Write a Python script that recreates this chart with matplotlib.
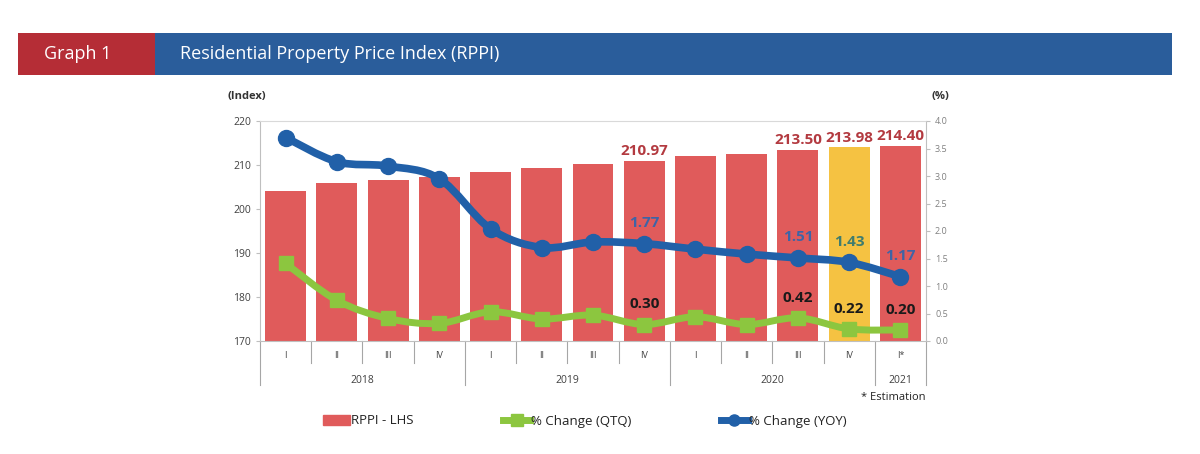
import numpy as np
import matplotlib
matplotlib.use("Agg")
import matplotlib.pyplot as plt
from matplotlib.path import Path
from matplotlib.patches import PathPatch, Rectangle, Patch
from matplotlib.lines import Line2D
import matplotlib.transforms as mtransforms

plt.rcParams['font.family'] = ['Open Sans', 'DejaVu Sans']

quarters = ["I", "II", "III", "IV", "I", "II", "III", "IV", "I", "II", "III", "IV", "I*"]
years = ["2018", "2019", "2020", "2021"]
year_spans = [(0, 3), (4, 7), (8, 11), (12, 12)]

rppi = [204.1, 205.8, 206.7, 207.3, 208.4, 209.3, 210.3, 210.97, 212.0, 212.6, 213.50, 213.98, 214.40]
qtq = [1.41, 0.74, 0.41, 0.32, 0.53, 0.40, 0.47, 0.30, 0.44, 0.30, 0.42, 0.22, 0.20]
yoy = [3.70, 3.26, 3.18, 2.95, 2.04, 1.70, 1.80, 1.77, 1.67, 1.58, 1.51, 1.43, 1.17]

rppi_labels = {7: "210.97", 10: "213.50", 11: "213.98", 12: "214.40"}
yoy_labels = {7: "1.77", 10: "1.51", 11: "1.43", 12: "1.17"}
qtq_labels = {7: "0.30", 10: "0.42", 11: "0.22", 12: "0.20"}

RED = "#E05B5B"
YELLOW = "#F5C242"
BLUE = "#2160A8"
GREEN = "#8CC63F"
GRAY = "#808080"


def smooth_path(xs, ys, t=1/6):
    # catmull-rom style bezier through the points (like excel smoothed lines)
    xs = np.asarray(xs, float)
    ys = np.asarray(ys, float)
    pts = np.column_stack([xs, ys])
    verts = [pts[0]]
    codes = [Path.MOVETO]
    n = len(pts)
    for i in range(n - 1):
        p0 = pts[i - 1] if i > 0 else pts[i]
        p1 = pts[i]
        p2 = pts[i + 1]
        p3 = pts[i + 2] if i + 2 < n else pts[i + 1]
        c1 = p1 + (p2 - p0) * t
        c2 = p2 - (p3 - p1) * t
        verts += [c1, c2, p2]
        codes += [Path.CURVE4] * 3
    return Path(verts, codes)


fig = plt.figure(figsize=(12, 4.54), dpi=100)

# header band
fig.add_artist(Rectangle((18/1200, 1-75/454), 137/1200, 42/454, transform=fig.transFigure,
                         facecolor="#B52D36", edgecolor="none"))
fig.add_artist(Rectangle((155/1200, 1-75/454), 1017/1200, 42/454, transform=fig.transFigure,
                         facecolor="#2A5D9B", edgecolor="none"))
fig.text(44/1200, 1-54/454, "Graph 1", color="white", fontsize=13, va="center")
fig.text(180/1200, 1-54/454, "Residential Property Price Index (RPPI)", color="white",
         fontsize=13, va="center")

ax = fig.add_axes([260/1200, 1-341/454, 666/1200, 220/454])
x = np.arange(len(quarters))
colors = [RED] * len(quarters)
colors[11] = YELLOW
ax.bar(x, [v - 170 for v in rppi], bottom=170, width=0.8, color=colors, zorder=2)
ax.set_xlim(-0.5, len(quarters) - 0.5)
ax.set_ylim(170, 220)
ax.set_yticks(range(170, 221, 10))
ax.tick_params(axis="y", labelsize=7.5, labelcolor="#404040", color="#BFBFBF", length=3)
ax.set_xticks([])
for s in ["left", "right", "bottom"]:
    ax.spines[s].set_color("#BFBFBF")
ax.spines["top"].set_color("#D9D9D9")

for i, lab in rppi_labels.items():
    ax.text(x[i], rppi[i] + 0.6, lab, ha="center", va="bottom", fontsize=11,
            fontweight="bold", color="#B33A40")

ax2 = ax.twinx()
ax2.set_ylim(0, 4)
ax2.set_yticks(np.arange(0, 4.01, 0.5))
ax2.set_yticklabels([f"{v:.1f}" for v in np.arange(0, 4.01, 0.5)])
ax2.tick_params(axis="y", labelsize=6.5, labelcolor=GRAY, color="#BFBFBF", length=3)
for s in ax2.spines.values():
    s.set_visible(False)

ax2.add_patch(PathPatch(smooth_path(x, qtq), facecolor="none", edgecolor=GREEN,
                        lw=5, capstyle="round", joinstyle="round", zorder=3))
ax2.plot(x, qtq, "s", color=GREEN, ms=10, zorder=4)
ax2.add_patch(PathPatch(smooth_path(x, yoy), facecolor="none", edgecolor=BLUE,
                        lw=5.5, capstyle="round", joinstyle="round", zorder=5))
ax2.plot(x, yoy, "o", color=BLUE, ms=11.5, zorder=6)

for i, lab in yoy_labels.items():
    c = "#3F7C6E" if i == 11 else "#3E64A6"
    ax2.text(x[i], yoy[i] + 0.25, lab, ha="center", va="bottom", fontsize=11,
             fontweight="bold", color=c)
for i, lab in qtq_labels.items():
    ax2.text(x[i], qtq[i] + 0.24, lab, ha="center", va="bottom", fontsize=11,
             fontweight="bold", color="#1A1A1A")

# category axis below
trans = mtransforms.blended_transform_factory(ax.transData, ax.transAxes)
year_edges = {-0.5, 3.5, 7.5, 11.5, 12.5}
for b in np.arange(-0.5, len(quarters), 1.0):
    depth = -0.2 if b in year_edges else -0.1
    ax.plot([b, b], [0, depth], transform=trans, color="#A6A6A6", lw=0.8, clip_on=False)
for i, q in enumerate(quarters):
    ax.text(i, -0.066, q, transform=trans, ha="center", va="center", fontsize=6.5, color="#404040")
for yr, (a, b) in zip(years, year_spans):
    ax.text((a + b) / 2, -0.178, yr, transform=trans, ha="center", va="center",
            fontsize=7.5, color="#404040")

fig.text(228/1200, 1-97/454, "(Index)", fontsize=8, fontweight="bold", color="#333333", va="center")
fig.text(932/1200, 1-97/454, "(%)", fontsize=8, fontweight="bold", color="#333333", va="center")
fig.text(926/1200, 1-398/454, "* Estimation", fontsize=8, color="#222222", ha="right", va="center")

handles = [Patch(color=RED),
           Line2D([0], [0], color=GREEN, lw=5, marker="s", ms=8),
           Line2D([0], [0], color=BLUE, lw=5, marker="o", ms=8)]
labels = ["RPPI - LHS", "% Change (QTQ)", "% Change (YOY)"]
fig.legend(handles, labels, loc="center", bbox_to_anchor=(585/1200, 1-421/454), ncol=3,
           frameon=False, fontsize=9.5, handlelength=2.0, handletextpad=0.1,
           columnspacing=6.8, labelcolor="#222222")

fig.savefig("out.png", dpi=100)
